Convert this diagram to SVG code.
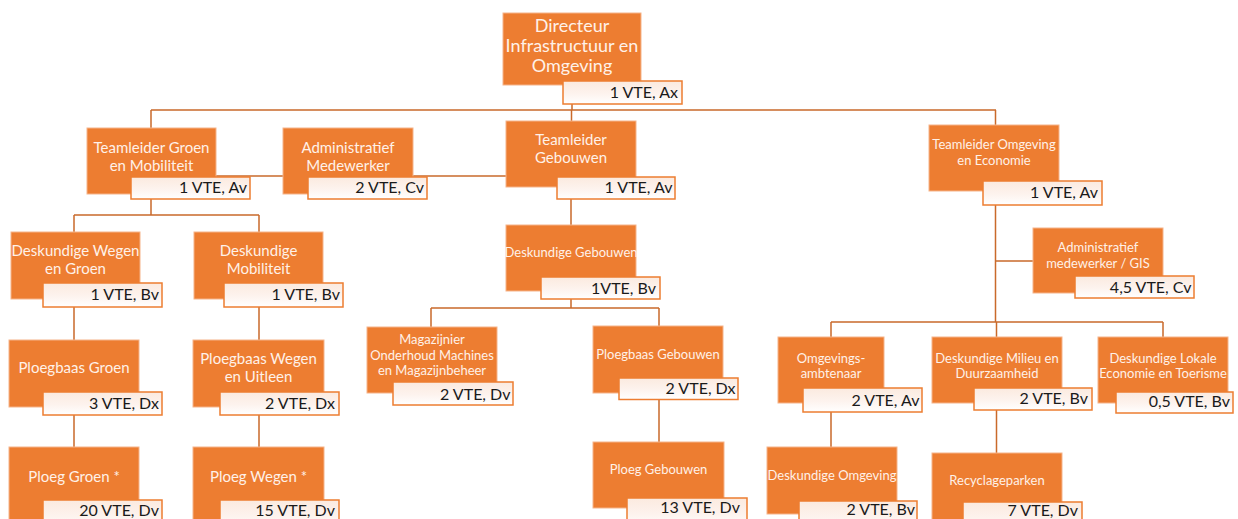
<svg xmlns="http://www.w3.org/2000/svg" width="1238" height="519" viewBox="0 0 1238 519">
<defs>
<linearGradient id="lg" x1="0" y1="0" x2="0" y2="1">
<stop offset="0" stop-color="#FBEADF"/>
<stop offset="0.55" stop-color="#FDF3EE"/>
<stop offset="1" stop-color="#FFFFFF"/>
</linearGradient>
</defs>
<style>
.box{fill:#ED7D31;stroke:#F5B48A;stroke-width:1}
.lab{fill:url(#lg);stroke:#ED7D31;stroke-width:1.5}
.t{font-family:Lato,"Open Sans",sans-serif;fill:#FFF1E8;text-anchor:middle}
.t18{font-size:18px}
.t15{font-size:15px}
.t13{font-size:13px}
.v{font-family:Lato,"Open Sans",sans-serif;font-size:16px;fill:#1A1A1A;text-anchor:end}
.c{fill:none;stroke:#C96A2B;stroke-width:1.5}
</style>
<rect width="1238" height="519" fill="#FFFFFF"/>
<g id="connectors">
<path class="c" d="M572 104V110M151 110H996M151 110V128M571.5 110V121M995.5 110V125"/>
<path class="c" d="M216 176H507"/>
<path class="c" d="M151 199V215M74 215H259M74 215V232M259 215V232"/>
<path class="c" d="M74 307V340M259 307V340M74 415V447M259 415V447"/>
<path class="c" d="M571 199V225M571 299V308M431 308H659M431 308V327M659 308V326M659 399V442"/>
<path class="c" d="M995.5 205V322M995.5 261H1033M831 322H1163M831 322V337M996.5 322V337M1163 322V337"/>
<path class="c" d="M831 412V447M996.5 410V453"/>
</g>
<g id="n-directeur">
<rect class="box" x="503" y="13" width="138" height="72"/>
<text class="t t18" x="572" y="31.5">Directeur</text>
<text class="t t18" x="572" y="51.5">Infrastructuur en</text>
<text class="t t18" x="572" y="71.5">Omgeving</text>
<rect class="lab" x="563" y="81" width="119" height="23"/>
<text class="v" x="678" y="98">1 VTE, Ax</text>
</g>
<g id="n-tl-groen">
<rect class="box" x="87" y="128" width="129" height="66"/>
<text class="t t15" x="151.5" y="153">Teamleider Groen</text>
<text class="t t15" x="151.5" y="171">en Mobiliteit</text>
<rect class="lab" x="131" y="177" width="119" height="22"/>
<text class="v" x="247" y="193.3">1 VTE, Av</text>
</g>
<g id="n-admin">
<rect class="box" x="283" y="128" width="130" height="66"/>
<text class="t t15" x="348" y="153">Administratief</text>
<text class="t t15" x="348" y="171">Medewerker</text>
<rect class="lab" x="308" y="177" width="119" height="22"/>
<text class="v" x="424" y="193.3">2 VTE, Cv</text>
</g>
<g id="n-tl-gebouwen">
<rect class="box" x="506" y="121" width="130" height="66"/>
<text class="t t15" x="571" y="145">Teamleider</text>
<text class="t t15" x="571" y="163.3">Gebouwen</text>
<rect class="lab" x="557" y="177" width="118" height="22"/>
<text class="v" x="672.5" y="193.3">1 VTE, Av</text>
</g>
<g id="n-tl-omgeving">
<rect class="box" x="929" y="125" width="130" height="66"/>
<text class="t t13" x="994" y="149">Teamleider Omgeving</text>
<text class="t t13" x="994" y="165">en Economie</text>
<rect class="lab" x="983" y="181" width="119" height="24"/>
<text class="v" x="1098" y="198">1 VTE, Av</text>
</g>
<g id="n-desk-wegen-groen">
<rect class="box" x="11" y="232" width="129" height="67"/>
<text class="t t15" x="75.5" y="256">Deskundige Wegen</text>
<text class="t t15" x="75.5" y="274">en Groen</text>
<rect class="lab" x="43" y="283" width="119" height="24"/>
<text class="v" x="159" y="300">1 VTE, Bv</text>
</g>
<g id="n-desk-mobiliteit">
<rect class="box" x="194" y="232" width="129" height="67"/>
<text class="t t15" x="258.5" y="256">Deskundige</text>
<text class="t t15" x="258.5" y="274">Mobiliteit</text>
<rect class="lab" x="224" y="283" width="119" height="24"/>
<text class="v" x="340" y="300">1 VTE, Bv</text>
</g>
<g id="n-ploegbaas-groen">
<rect class="box" x="9" y="340" width="130" height="67"/>
<text class="t t15" x="74" y="373">Ploegbaas Groen</text>
<rect class="lab" x="43" y="392" width="119" height="23"/>
<text class="v" x="159" y="409">3 VTE, Dx</text>
</g>
<g id="n-ploegbaas-wegen">
<rect class="box" x="193" y="340" width="131" height="67"/>
<text class="t t15" x="258.5" y="364.3">Ploegbaas Wegen</text>
<text class="t t15" x="258.5" y="382">en Uitleen</text>
<rect class="lab" x="220" y="392" width="119" height="23"/>
<text class="v" x="335" y="409">2 VTE, Dx</text>
</g>
<g id="n-ploeg-groen">
<rect class="box" x="9" y="447" width="130" height="80"/>
<text class="t t15" x="74" y="481.7">Ploeg Groen *</text>
<rect class="lab" x="43" y="500" width="119" height="30"/>
<text class="v" x="159" y="516">20 VTE, Dv</text>
</g>
<g id="n-ploeg-wegen">
<rect class="box" x="193" y="447" width="131" height="80"/>
<text class="t t15" x="258.5" y="481.7">Ploeg Wegen *</text>
<rect class="lab" x="220" y="500" width="119" height="30"/>
<text class="v" x="335" y="516">15 VTE, Dv</text>
</g>
<g id="n-desk-gebouwen">
<rect class="box" x="506" y="225" width="130" height="66"/>
<text class="t t13" x="571" y="257">Deskundige Gebouwen</text>
<rect class="lab" x="541" y="277" width="119" height="22"/>
<text class="v" x="656" y="294">1VTE, Bv</text>
</g>
<g id="n-magazijnier">
<rect class="box" x="367" y="327" width="130" height="66"/>
<text class="t t13" x="432" y="344">Magazijnier</text>
<text class="t t13" x="432" y="359.5">Onderhoud Machines</text>
<text class="t t13" x="432" y="375">en Magazijnbeheer</text>
<rect class="lab" x="393" y="382" width="120" height="23"/>
<text class="v" x="510.5" y="400">2 VTE, Dv</text>
</g>
<g id="n-ploegbaas-gebouwen">
<rect class="box" x="593" y="326" width="130" height="67"/>
<text class="t t13" x="658" y="359">Ploegbaas Gebouwen</text>
<rect class="lab" x="619" y="378" width="119" height="21.5"/>
<text class="v" x="735.5" y="394">2 VTE, Dx</text>
</g>
<g id="n-ploeg-gebouwen">
<rect class="box" x="593" y="442" width="131" height="66"/>
<text class="t t13" x="658.5" y="474">Ploeg Gebouwen</text>
<rect class="lab" x="627" y="498" width="120" height="30"/>
<text class="v" x="740" y="513">13 VTE, Dv</text>
</g>
<g id="n-admin-gis">
<rect class="box" x="1033" y="228" width="130" height="65"/>
<text class="t t13" x="1098" y="251.7">Administratief</text>
<text class="t t13" x="1098" y="267.7">medewerker / GIS</text>
<rect class="lab" x="1075" y="276" width="119" height="22"/>
<text class="v" x="1191.5" y="292.7">4,5 VTE, Cv</text>
</g>
<g id="n-omgevingsambtenaar">
<rect class="box" x="778" y="337" width="106" height="66"/>
<text class="t t13" x="831" y="362.5">Omgevings-</text>
<text class="t t13" x="831" y="377.5">ambtenaar</text>
<rect class="lab" x="803" y="388" width="119" height="24"/>
<text class="v" x="919.5" y="406">2 VTE, Av</text>
</g>
<g id="n-desk-milieu">
<rect class="box" x="932" y="337" width="130" height="66"/>
<text class="t t13" x="997" y="362.5">Deskundige Milieu en</text>
<text class="t t13" x="997" y="377.5">Duurzaamheid</text>
<rect class="lab" x="974" y="388" width="118" height="22"/>
<text class="v" x="1088" y="404">2 VTE, Bv</text>
</g>
<g id="n-desk-lokale">
<rect class="box" x="1098" y="337" width="130" height="66"/>
<text class="t t13" x="1163" y="362.5">Deskundige Lokale</text>
<text class="t t13" x="1163" y="377.5">Economie en Toerisme</text>
<rect class="lab" x="1116" y="392" width="117" height="21"/>
<text class="v" x="1230" y="407">0,5 VTE, Bv</text>
</g>
<g id="n-desk-omgeving">
<rect class="box" x="767" y="447" width="130" height="67"/>
<text class="t t13" x="832" y="480">Deskundige Omgeving</text>
<rect class="lab" x="799" y="501" width="118" height="30"/>
<text class="v" x="915" y="515">2 VTE, Bv</text>
</g>
<g id="n-recyclageparken">
<rect class="box" x="932" y="453" width="130" height="70"/>
<text class="t t13" x="997" y="485">Recyclageparken</text>
<rect class="lab" x="963" y="502" width="119" height="30"/>
<text class="v" x="1078" y="516">7 VTE, Dv</text>
</g>
</svg>
